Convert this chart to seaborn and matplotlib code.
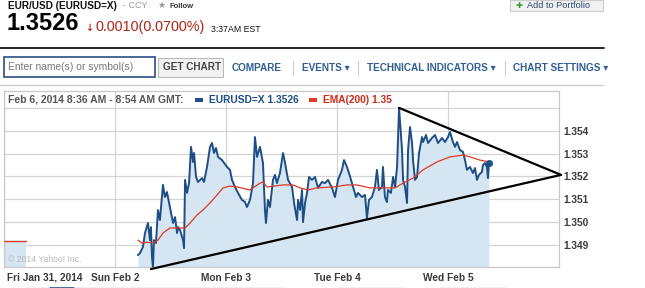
import matplotlib
matplotlib.use("Agg")
import matplotlib.pyplot as plt
import matplotlib.transforms as mtransforms
from matplotlib.patches import Rectangle
from matplotlib.lines import Line2D
import seaborn as sns

# ---------------- data ----------------
# x in day units: 0 = Fri Jan 31, 1 = Sun Feb 2, 2 = Mon Feb 3, 3 = Tue Feb 4, 4 = Wed Feb 5
day_ticks = [0, 1, 2, 3, 4]
day_labels = ["Fri Jan 31, 2014", "Sun Feb 2", "Mon Feb 3", "Tue Feb 4", "Wed Feb 5"]
price_ticks = [1.349, 1.350, 1.351, 1.352, 1.353, 1.354, 1.355]
price_labels = ["1.349", "1.350", "1.351", "1.352", "1.353", "1.354", ""]

fri_t = [0.0, 0.198]
fri_price = [1.34917, 1.34917]

eur_t = [1.207, 1.225, 1.252, 1.270, 1.297, 1.315, 1.324, 1.333, 1.342, 1.351,
         1.369, 1.387, 1.405, 1.432, 1.450, 1.468, 1.495, 1.523, 1.541, 1.559,
         1.568, 1.586, 1.613, 1.622, 1.631, 1.649, 1.667, 1.685, 1.703, 1.712,
         1.730, 1.748, 1.784, 1.802, 1.829, 1.856, 1.874, 1.892, 1.910, 1.928,
         1.964, 2.009, 2.036, 2.054, 2.081, 2.108, 2.144, 2.171, 2.189, 2.216,
         2.243, 2.261, 2.279, 2.306, 2.333, 2.351, 2.360, 2.378, 2.396, 2.423,
         2.441, 2.459, 2.486, 2.514, 2.532, 2.559, 2.595, 2.613, 2.640, 2.649,
         2.667, 2.685, 2.694, 2.712, 2.730, 2.748, 2.775, 2.802, 2.829, 2.865,
         2.892, 2.919, 2.955, 2.982, 3.009, 3.045, 3.063, 3.090, 3.108, 3.135,
         3.153, 3.171, 3.189, 3.225, 3.252, 3.270, 3.288, 3.315, 3.342, 3.360,
         3.378, 3.405, 3.414, 3.432, 3.450, 3.459, 3.486, 3.505, 3.523, 3.541,
         3.559, 3.586, 3.595, 3.613, 3.631, 3.640, 3.658, 3.676, 3.685, 3.703,
         3.721, 3.739, 3.766, 3.775, 3.802, 3.820, 3.856, 3.883, 3.910, 3.946,
         3.973, 4.000, 4.018, 4.045, 4.063, 4.081, 4.108, 4.135, 4.153, 4.171,
         4.198, 4.225, 4.243, 4.261, 4.279, 4.306, 4.315, 4.333, 4.351, 4.360,
         4.369]
eur_price = [1.34855, 1.34864, 1.34891, 1.34952, 1.34996, 1.34921, 1.34978, 1.34847, 1.34803, 1.34921,
             1.34908, 1.35053, 1.35009, 1.35163, 1.35110, 1.35132, 1.35066, 1.34996, 1.35022, 1.34952,
             1.34978, 1.34965, 1.34921, 1.34886, 1.35185, 1.35128, 1.35171, 1.35330, 1.35264, 1.35303,
             1.35198, 1.35176, 1.35193, 1.35176, 1.35242, 1.35330, 1.35347, 1.35303, 1.35325, 1.35286,
             1.35272, 1.35242, 1.35229, 1.35185, 1.35154, 1.35128, 1.35097, 1.35088, 1.35066, 1.35097,
             1.35170, 1.35373, 1.35286, 1.35330, 1.35259, 1.35053, 1.34996, 1.35097, 1.35066, 1.35185,
             1.35207, 1.35171, 1.35215, 1.35303, 1.35259, 1.35185, 1.35154, 1.35084, 1.35009, 1.35097,
             1.35053, 1.35141, 1.35000, 1.35084, 1.35128, 1.35198, 1.35185, 1.35198, 1.35150, 1.35176,
             1.35171, 1.35185, 1.35150, 1.35110, 1.35185, 1.35229, 1.35272, 1.35242, 1.35215, 1.35171,
             1.35141, 1.35110, 1.35128, 1.35110, 1.35119, 1.35018, 1.35097, 1.35110, 1.35154, 1.35229,
             1.35141, 1.35154, 1.35242, 1.35110, 1.35088, 1.35141, 1.35128, 1.35198, 1.35154, 1.35242,
             1.35501, 1.35316, 1.35185, 1.35154, 1.35084, 1.35316, 1.35417, 1.35347, 1.35272, 1.35185,
             1.35198, 1.35303, 1.35373, 1.35351, 1.35382, 1.35347, 1.35369, 1.35382, 1.35347, 1.35369,
             1.35351, 1.35373, 1.35395, 1.35351, 1.35330, 1.35351, 1.35316, 1.35308, 1.35272, 1.35229,
             1.35242, 1.35215, 1.35237, 1.35185, 1.35207, 1.35220, 1.35250, 1.35259, 1.35242, 1.35193,
             1.35260]

ema_t = [1.207, 1.243, 1.288, 1.342, 1.387, 1.432, 1.495, 1.631, 1.676, 1.739,
         1.793, 1.856, 1.919, 1.973, 2.036, 2.099, 2.216, 2.306, 2.333, 2.369,
         2.514, 2.604, 2.667, 2.739, 2.820, 2.964, 3.090, 3.180, 3.297, 3.523,
         3.595, 3.685, 3.775, 3.901, 4.018, 4.135, 4.198, 4.288, 4.369]
ema_price = [1.34921, 1.34908, 1.34912, 1.34908, 1.34921, 1.34952, 1.34974, 1.34974, 1.34996, 1.35031,
             1.35053, 1.35084, 1.35119, 1.35150, 1.35158, 1.35154, 1.35141, 1.35171, 1.35176, 1.35154,
             1.35163, 1.35163, 1.35150, 1.35141, 1.35150, 1.35154, 1.35163, 1.35163, 1.35150, 1.35150,
             1.35171, 1.35193, 1.35229, 1.35264, 1.35286, 1.35294, 1.35286, 1.35272, 1.35264]

trend_upper_t = [3.559, 5.018]
trend_upper_p = [1.35501, 1.35207]
trend_lower_t = [1.324, 5.018]
trend_lower_p = [1.34794, 1.35207]

# ---------------- style ----------------
sns.set_theme(style="white")
plt.rcParams["font.family"] = ["Liberation Sans", "DejaVu Sans"]

W, H = 645, 288
fig = plt.figure(figsize=(W / 100, H / 100), dpi=100)
fig.patch.set_facecolor("white")


def fx(x):
    return x / W


def fy(y):
    return 1 - y / H


def ftext(x, y, s, **kw):
    kw.setdefault("va", "center")
    kw.setdefault("ha", "left")
    fig.text(fx(x), fy(y), s, **kw)


def frect(x0, y0, x1, y1, **kw):
    fig.patches.append(Rectangle((fx(x0), fy(y1)), fx(x1) - fx(x0), fy(y0) - fy(y1),
                                 transform=fig.transFigure, **kw))


def fline(xs, ys, **kw):
    fig.lines.append(Line2D([fx(v) for v in xs], [fy(v) for v in ys],
                            transform=fig.transFigure, **kw))


# ---------------- page header ----------------
ftext(8, 6, "EUR/USD (EURUSD=X)", fontsize=7.2, fontweight="bold", color="#111111")
ftext(123, 6, "- CCY", fontsize=6.5, color="#999999")
ftext(157, 5.5, "\u2605", fontsize=6.5, color="#999999", family=["DejaVu Sans"])
ftext(169, 6, "Follow", fontsize=5.5, fontweight="bold", color="#333333")
ftext(7, 24, "1.3526", fontsize=17, fontweight="bold", color="#000000")
ftext(85, 28, "\u2193", fontsize=7, fontweight="bold", color="#c03020", family=["DejaVu Sans"])
ftext(95, 27, "0.0010(0.0700%)", fontsize=10.4, color="#b0241a")
ftext(211, 29, "3:37AM EST", fontsize=6.3, color="#111111")

frect(510, 0, 603, 11, facecolor="#f1f1f1", edgecolor="#cccccc", lw=0.8)
ftext(516, 5.5, "\u271a", fontsize=6, color="#3c9a2a", family=["DejaVu Sans"])
ftext(527, 5.5, "Add to Portfolio", fontsize=6.6, color="#2a4a6e")

fline([0, 604], [48, 48], color="#111111", lw=1.3)

# search toolbar
frect(4, 57, 155, 77, facecolor="white", edgecolor="#3b5a8c", lw=1.3)
ftext(8, 67.5, "Enter name(s) or symbol(s)", fontsize=7.4, color="#777777")
frect(158, 58, 223, 77, facecolor="#f2f2f2", edgecolor="#bbbbbb", lw=0.8)
ftext(163, 67.5, "GET CHART", fontsize=7.2, fontweight="bold", color="#444444")
nav_blue = "#2f5f93"
ftext(232, 68, "COMPARE", fontsize=7.2, fontweight="bold", color=nav_blue)
ftext(302, 68, "EVENTS \u25be", fontsize=7.2, fontweight="bold", color=nav_blue,
      family=["Liberation Sans", "DejaVu Sans"])
ftext(367, 68, "TECHNICAL INDICATORS \u25be", fontsize=7.2, fontweight="bold", color=nav_blue,
      family=["Liberation Sans", "DejaVu Sans"])
ftext(513, 68, "CHART SETTINGS \u25be", fontsize=7.2, fontweight="bold", color=nav_blue,
      family=["Liberation Sans", "DejaVu Sans"])
for sx in (293, 358, 505):
    fline([sx, sx], [61, 75], color="#cccccc", lw=0.8)
fline([0, 603], [85, 85], color="#cccccc", lw=1.0)

# ---------------- chart ----------------
ax = fig.add_axes([fx(4), fy(267), fx(559) - fx(4), fy(91) - fy(267)])
ax.set_facecolor("white")
ylo, yhi = 1.34803, 1.35575
ax.set_xlim(0, 5)
ax.set_ylim(ylo, yhi)

fill_col = "#d5e5f1"
ax.fill_between(fri_t, fri_price, ylo, color=fill_col, lw=0, zorder=1)
ax.fill_between(eur_t, eur_price, ylo, color=fill_col, lw=0, zorder=1)

sns.lineplot(x=eur_t, y=eur_price, estimator=None, sort=False, color="#1d4f86",
             lw=1.4, ax=ax, zorder=3)
sns.lineplot(x=ema_t, y=ema_price, estimator=None, sort=False, color="#e03a25",
             lw=0.9, ax=ax, zorder=4)
sns.lineplot(x=fri_t, y=fri_price, estimator=None, sort=False, color="#e03a25",
             lw=1.0, ax=ax, zorder=4)
sns.scatterplot(x=[eur_t[-1]], y=[eur_price[-1]], color="#1d4f86", s=22,
                edgecolor="#1d4f86", ax=ax, zorder=5)
sns.lineplot(x=trend_upper_t, y=trend_upper_p, estimator=None, sort=False,
             color="black", lw=1.6, ax=ax, zorder=6)
ax.lines[-1].set_clip_on(False)
sns.lineplot(x=trend_lower_t, y=trend_lower_p, estimator=None, sort=False,
             color="black", lw=1.6, ax=ax, zorder=6)
ax.lines[-1].set_clip_on(False)

ax.set_yticks(price_ticks)
ax.set_yticklabels(price_labels)
ax.yaxis.tick_right()
ax.set_xticks(day_ticks)
ax.set_xticklabels(day_labels)
ax.grid(True, color="#d4d4d4", lw=0.9, zorder=0)
ax.set_axisbelow(True)
ax.tick_params(axis="both", length=0, labelsize=7.3, labelcolor="#3a3a3a")
ax.tick_params(axis="y", pad=3)
ax.tick_params(axis="x", pad=4)
for lab in ax.get_xticklabels() + ax.get_yticklabels():
    lab.set_fontweight("bold")
first = ax.get_xticklabels()[0]
first.set_horizontalalignment("left")
first.set_transform(first.get_transform() +
                    mtransforms.ScaledTranslation(3 / 100, 0, fig.dpi_scale_trans))
ax.set_xlabel("")
ax.set_ylabel("")
for sp in ax.spines.values():
    sp.set_color("#c8c8c8")
    sp.set_linewidth(0.9)

ax.text(0.007, 0.04, "\u00a9 2014 Yahoo! Inc.", transform=ax.transAxes, fontsize=6.2,
        color="#b8b8b8", ha="left", va="center")

# chart legend header
ftext(8, 100, "Feb 6, 2014 8:36 AM - 8:54 AM GMT:", fontsize=7.5, fontweight="bold", color="#555555")
frect(195, 98, 203, 102, facecolor="#1d4f86", edgecolor="none")
ftext(209, 100, "EURUSD=X 1.3526", fontsize=7.4, fontweight="bold", color="#1d4f86")
frect(309, 98, 317, 102, facecolor="#e03a25", edgecolor="none")
ftext(323, 100, "EMA(200) 1.35", fontsize=7.4, fontweight="bold", color="#d02a1a")

# range selector strip (partly visible at bottom)
fline([25, 285], [287.5, 287.5], color="#bbbbbb", lw=1.0)
fline([50, 73], [287.5, 287.5], color="#2f5f93", lw=2.0)
fline([338, 405], [287.5, 287.5], color="#bbbbbb", lw=1.0)
fline([438, 505], [287.5, 287.5], color="#bbbbbb", lw=1.0)

fig.savefig("out.png", dpi=100, facecolor="white")
